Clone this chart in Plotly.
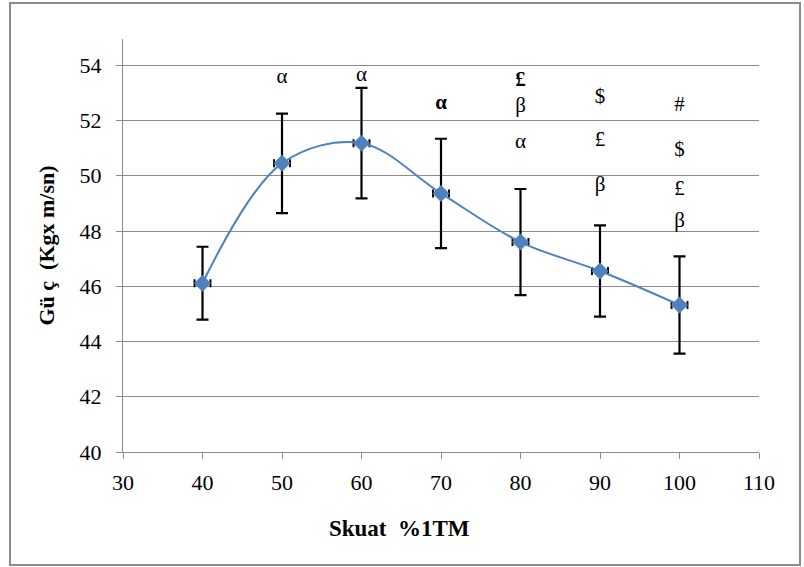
import plotly.graph_objects as go

x_vals = [40, 50, 60, 70, 80, 90, 100]
y_vals = [46.11, 50.45, 51.18, 49.36, 47.6, 46.55, 45.32]
y_err = [1.32, 1.8, 2.0, 1.98, 1.92, 1.65, 1.76]
x_err = [1.0, 1.0, 1.0, 1.0, 1.0, 1.0, 1.0]

sig_x = [50, 60, 70, 80, 80, 80, 90, 90, 90, 100, 100, 100, 100]
sig_y = [53.56, 53.63, 52.62, 53.45, 52.48, 51.18, 52.84, 51.28, 49.62, 52.55, 50.92, 49.48, 48.32]
sig_text = ["α", "α", "<b>α</b>", "<b>£</b>", "β", "α", "$", "£", "β", "#", "$", "£", "β"]

x_ticks = [30, 40, 50, 60, 70, 80, 90, 100, 110]
y_ticks = [40, 42, 44, 46, 48, 50, 52, 54]

x_title = "Skuat  %1TM"
y_title = "Gü ç  (Kgx m/sn)"

BLUE = "#4F81BD"
GRID = "#8C8C8C"
FONT = "Liberation Serif, Times New Roman, Times, DejaVu Serif, serif"

fig = go.Figure()

fig.add_trace(go.Scatter(
    x=x_vals, y=y_vals, mode="lines+markers",
    line=dict(color=BLUE, width=2, shape="spline", smoothing=1.0),
    marker=dict(symbol="diamond", size=13, color=BLUE),
    error_y=dict(type="data", array=y_err, visible=True, color="black", thickness=2.2, width=6),
    error_x=dict(type="data", array=x_err, visible=True, color="black", thickness=2, width=4),
    showlegend=False, hoverinfo="skip",
))

fig.add_trace(go.Scatter(
    x=sig_x, y=sig_y, mode="text", text=sig_text,
    textfont=dict(family=FONT, size=21, color="black"),
    textposition="middle center", showlegend=False, hoverinfo="skip",
))

fig.update_layout(
    width=804, height=567,
    margin=dict(l=123, r=45, t=39, b=115),
    paper_bgcolor="white", plot_bgcolor="white",
    font=dict(family=FONT, size=16, color="black"),
    xaxis=dict(
        range=[30, 110], tickvals=x_ticks, showgrid=False, zeroline=False,
        showline=True, linecolor=GRID, linewidth=1.3,
        ticks="outside", ticklen=6, tickcolor=GRID, ticklabelstandoff=4,
        tickfont=dict(family=FONT, size=22),
    ),
    yaxis=dict(
        range=[40, 54.95], tickvals=y_ticks, showgrid=True, gridcolor=GRID, gridwidth=1.3,
        zeroline=False, showline=True, linecolor=GRID, linewidth=1.3,
        ticks="outside", ticklen=6, tickcolor=GRID, ticklabelstandoff=10,
        tickfont=dict(family=FONT, size=22),
        title=dict(text="<b>" + y_title + "</b>", font=dict(family=FONT, size=22), standoff=18),
    ),
    annotations=[dict(
        text="<b>" + x_title + "</b>", xref="paper", yref="paper",
        x=(399 - 123) / 636, y=(452 - 528) / 413, xanchor="center", yanchor="middle",
        showarrow=False, font=dict(family=FONT, size=23, color="black"),
    )],
    shapes=[dict(
        type="rect", xref="paper", yref="paper",
        x0=(10 - 123) / 636, x1=(800 - 123) / 636,
        y0=(452 - 565) / 413, y1=(452 - 3) / 413,
        line=dict(color="#8C8C8C", width=2), layer="below",
    )],
)

fig.write_html("out.html", config={"displayModeBar": False},
               post_script="document.body.style.margin='0';")
